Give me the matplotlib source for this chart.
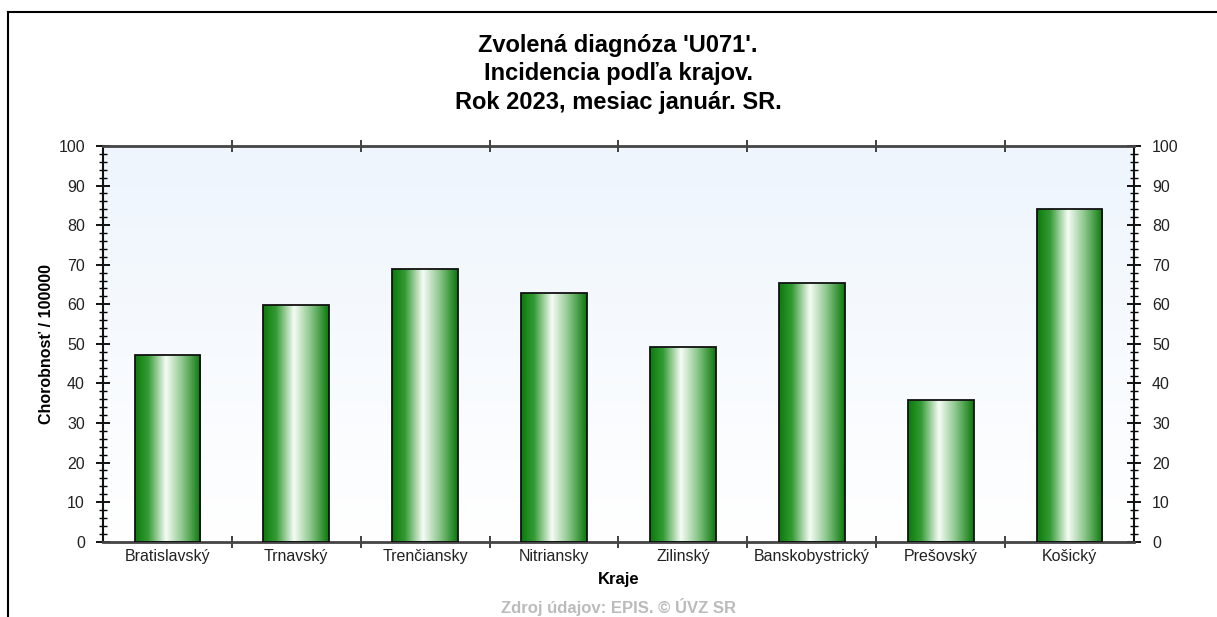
import numpy as np
import matplotlib.pyplot as plt
from matplotlib.colors import LinearSegmentedColormap
from matplotlib.lines import Line2D

# --- data ---
kraje = ['Bratislavský', 'Trnavský', 'Trenčiansky', 'Nitriansky',
         'Zilinský', 'Banskobystrický', 'Prešovský', 'Košický']
chorobnost = [47.3, 59.7, 68.9, 62.8, 49.2, 65.5, 35.7, 84.0]

title = "Zvolená diagnóza 'U071'.\nIncidencia podľa krajov.\nRok 2023, mesiac január. SR."
ylabel = 'Chorobnosť / 100000'
xlabel = 'Kraje'
zdroj = 'Zdroj údajov: EPIS. © ÚVZ SR'

plt.rcParams['font.family'] = ['Liberation Sans', 'DejaVu Sans']

fig = plt.figure(figsize=(12.17, 6.17), dpi=100)
ax = fig.add_axes([0.0846, 0.122, 0.8472, 0.6414])

x = np.arange(len(kraje))

# background gradient (light blue top -> white bottom)
bg = LinearSegmentedColormap.from_list('bg', ['#ffffff', '#eef5fd'])
ax.imshow(np.linspace(0, 1, 256).reshape(-1, 1), cmap=bg, origin='lower',
          extent=[0, 1, 0, 1], transform=ax.transAxes, aspect='auto', zorder=0)

# bars with cylinder gradient
green = LinearSegmentedColormap.from_list(
    'green', [(0.0, '#0b7a0b'), (0.2, '#359b35'), (0.47, '#f6fcf6'),
              (0.72, '#8cc78c'), (1.0, '#0a780a')])
grad = np.linspace(0, 1, 256).reshape(1, -1)
bars = ax.bar(x, chorobnost, width=0.51, facecolor='none',
              edgecolor='#111111', linewidth=1.3, zorder=3)
for b in bars:
    x0, y0 = b.get_x(), b.get_y()
    im = ax.imshow(grad, cmap=green, aspect='auto', zorder=2,
                   extent=[x0, x0 + b.get_width(), y0, y0 + b.get_height()])
    im.set_clip_path(b)

ax.set_xlim(-0.5, len(kraje) - 0.5)
ax.set_ylim(0, 100)

# x axis: labels at centres, ticks at boundaries
ax.set_xticks(x)
ax.set_xticklabels(kraje, fontsize=11.5, color='#222222')
ax.tick_params(axis='x', which='major', length=0, pad=5)
ax.set_xticks(x[:-1] + 0.5, minor=True)
ax.tick_params(axis='x', which='minor', direction='inout', length=9,
               width=1.3, color='#333333', top=True)

# y axis both sides
ax.set_yticks(np.arange(0, 101, 10))
ax.set_yticks(np.arange(0, 101, 2), minor=True)
ax.tick_params(axis='y', which='major', direction='inout', length=10,
               width=1.3, labelsize=11.5, labelcolor='#222222',
               left=True, right=True, labelleft=True, labelright=True, pad=8)
ax.tick_params(axis='y', which='minor', direction='inout', length=6,
               width=1.0, left=True, right=True)

for s in ['left', 'right']:
    ax.spines[s].set_color('#111111')
    ax.spines[s].set_linewidth(1.5)
for s in ['top', 'bottom']:
    ax.spines[s].set_color('#444444')
    ax.spines[s].set_linewidth(2)

ax.set_ylabel(ylabel, fontsize=11.5, fontweight='bold', labelpad=3)
ax.set_xlabel(xlabel, fontsize=12, fontweight='bold', labelpad=6)

fig.text(0.508, 0.945, title, ha='center', va='top', fontsize=17,
         fontweight='bold', linespacing=1.3)
fig.text(0.508, 0.002, zdroj, ha='center', va='bottom', fontsize=12,
         fontweight='bold', color='#bbbbbb')

# outer frame (top and left edges)
fig.add_artist(Line2D([8 / 1217, 1], [1 - 12 / 617, 1 - 12 / 617],
                      transform=fig.transFigure, color='black', lw=1.5))
fig.add_artist(Line2D([8 / 1217, 8 / 1217], [0, 1 - 12 / 617],
                      transform=fig.transFigure, color='black', lw=1.5))

fig.savefig('out.png', dpi=100)
